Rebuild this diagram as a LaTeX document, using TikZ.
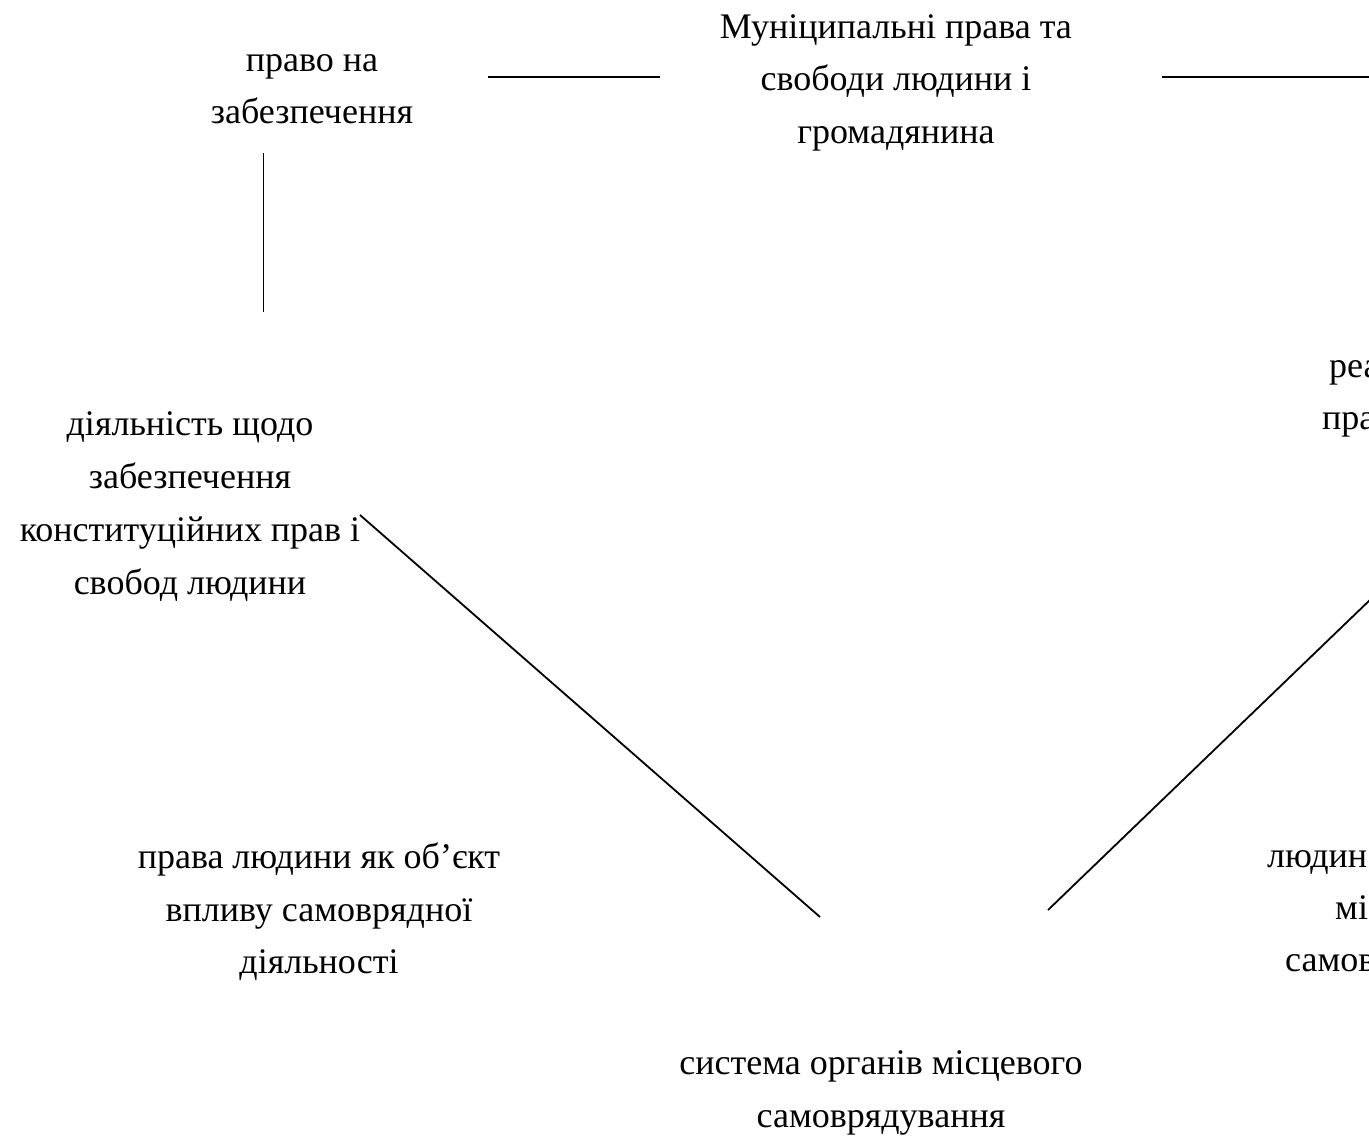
\documentclass[tikz,border=0pt]{standalone}
\usepackage{fontspec}
\setmainfont{Liberation Serif}
\begin{document}
\begin{tikzpicture}[x=1pt,y=-1pt,
  txt/.style={anchor=base,inner sep=0pt,font=\fontsize{36}{52}\selectfont},
  txtw/.style={anchor=base west,inner sep=0pt,font=\fontsize{36}{52}\selectfont},
  conn/.style={draw=black,line width=1.8pt}]
\useasboundingbox (0,0) rectangle (1369,1140);
\clip (0,0) rectangle (1369,1140);
% top left block
\node[txt] (pn1) at (312,71) {право на};
\node[txt] (pn2) at (312,123) {забезпечення};
% top centre block
\node[txt] (m1) at (896,39) {Муніципальні права та};
\node[txt] (m2) at (896,91) {свободи людини і};
\node[txt] (m3) at (896,143) {громадянина};
% left middle block
\node[txt] (d1) at (190,435) {діяльність щодо};
\node[txt] (d2) at (190,488) {забезпечення};
\node[txt] (d3) at (190,541) {конституційних прав і};
\node[txt] (d4) at (190,594) {свобод людини};
% lower left block
\node[txt] (h1) at (319,868) {права людини як об’єкт};
\node[txt] (h2) at (319,921) {впливу самоврядної};
\node[txt] (h3) at (319,973) {діяльності};
% bottom block
\node[txt] (s1) at (881,1074) {система органів місцевого};
\node[txt] (s2) at (881,1127) {самоврядування};
% right edge (cut) blocks
\node[txtw] (r1) at (1329,377) {реа};
\node[txtw] (r2) at (1322,429) {пра};
\node[txtw] (q1) at (1267,867) {людин};
\node[txtw] (q2) at (1335,919) {мі};
\node[txtw] (q3) at (1285,971) {самов};
% connector ends
\coordinate (a1) at (488,77);
\coordinate (a2) at (660,77);
\coordinate (b1) at (1162,77);
\coordinate (b2) at (1400,77);
\coordinate (v1) at (263.5,153);
\coordinate (v2) at (263.5,312);
\coordinate (e1) at (360,515);
\coordinate (e2) at (820,917);
\coordinate (f1) at (1048,910);
\coordinate (f2) at (1400,571);
\draw[conn] (a1) -- (a2);
\draw[conn] (b1) -- (b2);
\draw[conn] (v1) -- (v2);
\draw[conn] (e1) -- (e2);
\draw[conn] (f1) -- (f2);
\end{tikzpicture}
\end{document}
